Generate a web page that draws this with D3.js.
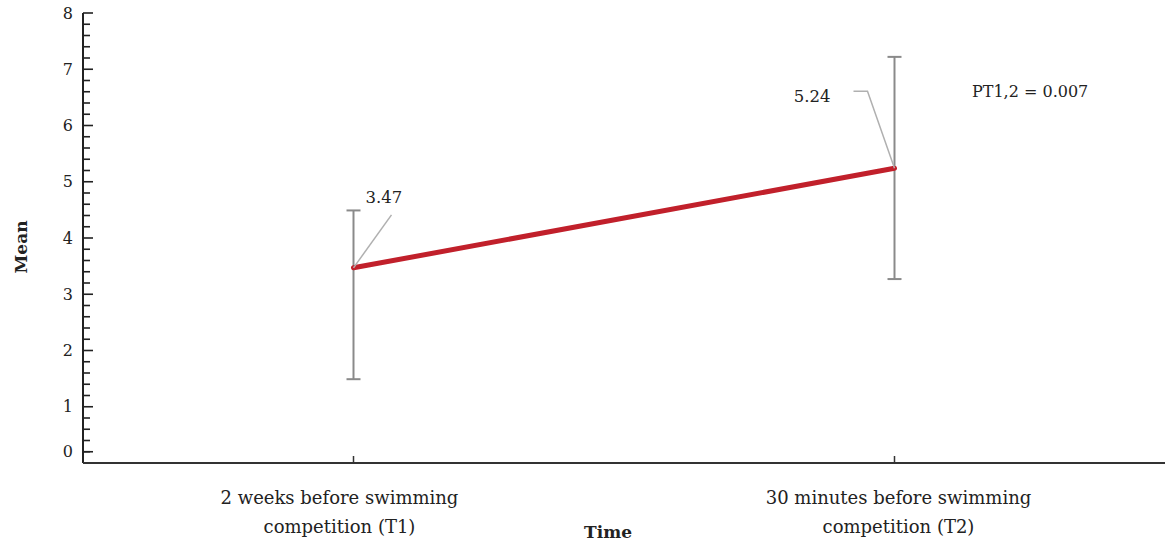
<!DOCTYPE html>
<html>
<head>
    <meta charset="utf-8">
    <title>Mean over time</title>
    <script src="https://d3js.org/d3.v7.min.js"></script>
    <style>
        body { margin: 0; background: #fff; }
        text { font-family: "DejaVu Serif", "Liberation Serif", serif; fill: #222; }
    </style>
</head>
<body>
<div id="chart"></div>
<script>
    // data
    const times = ["T1", "T2"];
    const timeLabels = [["2 weeks before swimming", "competition (T1)"],
                        ["30 minutes before swimming", "competition (T2)"]];
    const means = [3.47, 5.24];
    const upper = [4.49, 7.22];
    const lower = [1.49, 3.27];
    const meanLabels = ["3.47", "5.24"];
    const yTicks = [0, 1, 2, 3, 4, 5, 6, 7, 8];
    const pText = "PT1,2 = 0.007";

    const W = 1165, H = 541;
    const margin = {top: 13, right: 0, bottom: 78, left: 83};

    const svg = d3.select("#chart").append("svg")
        .attr("width", W).attr("height", H);

    const x = d3.scalePoint()
        .domain(times)
        .range([margin.left, W - margin.right])
        .padding(0.5);

    const y = d3.scaleLinear()
        .domain([0, 8])
        .range([H - margin.bottom, margin.top]);

    // y axis: minor ticks every 0.2, major every 1
    const minor = d3.range(1, 41).map(i => i * 0.2);
    const yAxis = svg.append("g").attr("transform", `translate(${margin.left},0)`);
    yAxis.append("line")
        .attr("x1", 0).attr("x2", 0)
        .attr("y1", y(8)).attr("y2", y(0))
        .attr("stroke", "#222").attr("stroke-width", 2);
    yAxis.selectAll(".minor")
        .data(minor)
        .join("line")
        .attr("x1", 0).attr("x2", d => Math.abs(d - Math.round(d)) < 1e-6 ? 10 : 7)
        .attr("y1", d => y(d)).attr("y2", d => y(d))
        .attr("stroke", "#222").attr("stroke-width", 1.6);
    // in the original the "0" label sits on the lowest minor tick
    yAxis.selectAll(".lbl")
        .data(yTicks)
        .join("text")
        .attr("x", -10)
        .attr("y", d => y(d === 0 ? 0.2 : d))
        .attr("dy", "0.35em")
        .attr("text-anchor", "end")
        .style("font-size", "16px")
        .text(d => d);
    yAxis.append("line")
        .attr("x1", 0).attr("x2", 10)
        .attr("y1", y(0.2)).attr("y2", y(0.2))
        .attr("stroke", "#222").attr("stroke-width", 1.6);

    // x axis
    const xAxis = svg.append("g");
    xAxis.append("line")
        .attr("x1", margin.left).attr("x2", W)
        .attr("y1", y(0)).attr("y2", y(0))
        .attr("stroke", "#333").attr("stroke-width", 2);
    xAxis.selectAll(".tick")
        .data(times)
        .join("line")
        .attr("x1", d => x(d)).attr("x2", d => x(d))
        .attr("y1", y(0)).attr("y2", y(0) - 7)
        .attr("stroke", "#333").attr("stroke-width", 1.5);
    // first label sits a little left of its tick in the original
    const labelShift = [-14, 4];
    xAxis.selectAll(".xl")
        .data(times)
        .join("text")
        .attr("text-anchor", "middle")
        .style("font-size", "18px")
        .each(function (d, i) {
            d3.select(this).selectAll("tspan")
                .data(timeLabels[i])
                .join("tspan")
                .attr("x", x(d) + labelShift[i])
                .attr("y", (t, j) => 504 + j * 29)
                .text(t => t);
        });

    // axis titles
    svg.append("text")
        .attr("x", 608).attr("y", 538)
        .attr("text-anchor", "middle")
        .style("font-size", "17px").style("font-weight", "bold")
        .text("Time");
    svg.append("text")
        .attr("transform", `translate(27,247) rotate(-90)`)
        .attr("text-anchor", "middle")
        .style("font-size", "17px").style("font-weight", "bold")
        .text("Mean");

    // error bars
    const eb = svg.append("g").attr("stroke", "#8a8a8a").attr("stroke-width", 2);
    times.forEach((t, i) => {
        eb.append("line").attr("x1", x(t)).attr("x2", x(t))
            .attr("y1", y(upper[i])).attr("y2", y(lower[i]));
        [upper[i], lower[i]].forEach(v => {
            eb.append("line").attr("x1", x(t) - 7).attr("x2", x(t) + 7)
                .attr("y1", y(v)).attr("y2", y(v));
        });
    });

    // mean line
    const line = d3.line().x((d, i) => x(times[i])).y(d => y(d));
    svg.append("path")
        .datum(means)
        .attr("d", line)
        .attr("fill", "none")
        .attr("stroke", "#c1202b")
        .attr("stroke-width", 5)
        .attr("stroke-linecap", "round");

    // value call-outs
    const leader = svg.append("g").attr("fill", "none").attr("stroke", "#b0b0b0").attr("stroke-width", 1.5);
    leader.append("path")
        .attr("d", `M${x("T1")},${y(means[0])} L${x("T1") + 38},${y(means[0]) - 53}`);
    leader.append("path")
        .attr("d", `M${x("T2")},${y(means[1])} L${x("T2") - 27},${y(means[1]) - 77} L${x("T2") - 41},${y(means[1]) - 77}`);
    svg.append("text")
        .attr("x", x("T1") + 12).attr("y", 203)
        .style("font-size", "16.5px")
        .text(meanLabels[0]);
    svg.append("text")
        .attr("x", x("T2") - 64).attr("y", 102)
        .attr("text-anchor", "end")
        .style("font-size", "16.5px")
        .text(meanLabels[1]);

    svg.append("text")
        .attr("x", 972).attr("y", 97)
        .style("font-size", "16px")
        .text(pText);
</script>
</body>
</html>
